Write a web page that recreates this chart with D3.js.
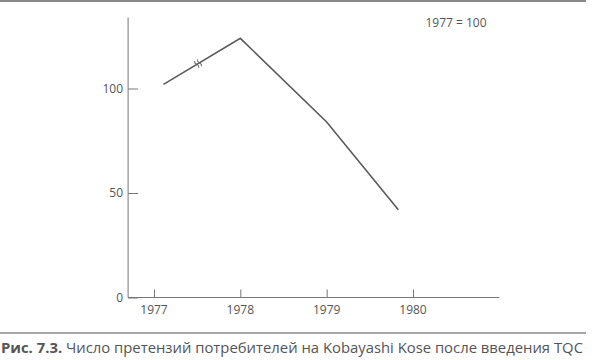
<!DOCTYPE html>
<html><head><meta charset="utf-8">
<script src="https://cdn.jsdelivr.net/npm/d3@7"></script>
<style>body{margin:0;background:#fff}svg{display:block}text{font-family:"Open Sans",sans-serif;fill:#555}</style>
</head><body>
<svg id="c" width="600" height="360"></svg>
<script>
const years = [1977.11, 1978, 1979, 1979.83];
const values = [102, 124, 84, 42];
const xTicks = [1977, 1978, 1979, 1980];
const yTicks = [0, 50, 100];
const note = "1977 = 100";
const captionBold = "Рис. 7.3.";
const captionText = " Число претензий потребителей на Kobayashi Kose после введения TQC";

const svg = d3.select("#c");
const x = d3.scaleLinear().domain([1977, 1980]).range([154, 413]);
const y = d3.scaleLinear().domain([0, 100]).range([297.5, 88.5]);
const axisColor = "#777";

// top rule
svg.append("line").attr("x1", 0).attr("x2", 586).attr("y1", 1).attr("y2", 1)
  .attr("stroke", "#888").attr("stroke-width", 2);

// y axis
const gy = svg.append("g").attr("transform", `translate(${x(1976.7)},0)`)
  .call(d3.axisRight(y).tickValues(yTicks).tickSize(10).tickFormat(""));
gy.select(".domain").remove();
gy.selectAll("line").attr("stroke", axisColor);
svg.append("line").attr("x1", x(1976.7)).attr("x2", x(1976.7))
  .attr("y1", y(134)).attr("y2", y(0)).attr("stroke", axisColor);
svg.selectAll(".ylab").data(yTicks).join("text")
  .attr("x", x(1976.7) - 5).attr("y", d => y(d)).attr("dy", "0.35em")
  .attr("text-anchor", "end").attr("font-size", 12).text(d => d);

// x axis
const gx = svg.append("g").attr("transform", `translate(0,${y(0)})`)
  .call(d3.axisTop(x).tickValues(xTicks).tickSize(8).tickFormat(""));
gx.select(".domain").remove();
gx.selectAll("line").attr("stroke", axisColor);
svg.append("line").attr("x1", x(1976.7)).attr("x2", x(1981))
  .attr("y1", y(0)).attr("y2", y(0)).attr("stroke", axisColor);
svg.selectAll(".xlab").data(xTicks).join("text")
  .attr("x", d => x(d)).attr("y", y(0) + 16).attr("text-anchor", "middle")
  .attr("font-size", 12).text(d => d);

// data line
const pts = years.map((d, i) => [x(d), y(values[i])]);
svg.append("path").attr("d", d3.line()(pts)).attr("fill", "none")
  .attr("stroke", "#5a5a5a").attr("stroke-width", 1.6);

// break mark on first segment
const t = 0.45;
const bx = pts[0][0] + (pts[1][0] - pts[0][0]) * t;
const by = pts[0][1] + (pts[1][1] - pts[0][1]) * t;
const ang = Math.atan2(pts[1][1] - pts[0][1], pts[1][0] - pts[0][0]) * 180 / Math.PI;
const bm = svg.append("g").attr("transform", `translate(${bx},${by}) rotate(${ang})`);
[-1.6, 1.6].forEach(o => {
  bm.append("path").attr("d", `M${o},-4 q-1.5,2 0,4 q1.5,2 0,4`)
    .attr("fill", "none").attr("stroke", "#666").attr("stroke-width", 0.9);
});

// note
svg.append("text").attr("x", 456).attr("y", 23).attr("dy", "0.35em")
  .attr("text-anchor", "middle").attr("font-size", 12).text(note);

// caption rule and caption
svg.append("line").attr("x1", 0).attr("x2", 586).attr("y1", 333).attr("y2", 333)
  .attr("stroke", "#888").attr("stroke-width", 1.5);
const cap = svg.append("text").attr("x", 1).attr("y", 353).attr("font-size", 14.5)
  .attr("textLength", 582).attr("lengthAdjust", "spacingAndGlyphs");
cap.append("tspan").attr("font-weight", "bold").text(captionBold);
cap.append("tspan").text(captionText);
</script>
</body></html>
